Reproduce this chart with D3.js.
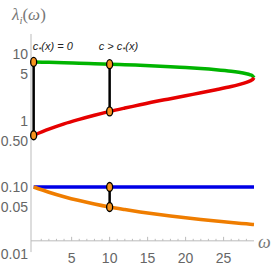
<!DOCTYPE html>
<meta charset="utf-8">
<html>
<head>
  <script src="https://d3js.org/d3.v7.min.js"></script>
  <style>
    body { margin: 0; background: white; }
    .tick-label { font-family: 'Liberation Sans', sans-serif; font-size: 14px; fill: #666; }
    .note { font-family: 'Liberation Sans', sans-serif; font-size: 11px; font-style: italic; fill: #222; }
  </style>
</head>
<body>
  <script>
    // data
    var omega = [0, 2, 4, 6, 8, 10, 12, 14, 16, 18, 20, 22, 24, 26, 27, 28, 28.5, 28.8, 29];
    var green = [7.60, 7.50, 7.39, 7.28, 7.16, 7.03, 6.90, 6.76, 6.61, 6.45, 6.26, 6.05, 5.80, 5.50, 5.30, 5.04, 4.86, 4.69, 4.40];
    var red = [0.60, 0.74, 0.89, 1.04, 1.20, 1.37, 1.54, 1.72, 1.93, 2.13, 2.36, 2.61, 2.90, 3.24, 3.46, 3.74, 3.94, 4.11, 4.40];
    var blue = [0.1, 0.1, 0.1, 0.1, 0.1, 0.1, 0.1, 0.1, 0.1, 0.1, 0.1, 0.1, 0.1, 0.1, 0.1, 0.1, 0.1, 0.1, 0.1];
    var orange = [0.100, 0.0835, 0.0715, 0.0625, 0.0555, 0.050, 0.0458, 0.0422, 0.0392, 0.0366, 0.0344, 0.0325, 0.0308, 0.0293, 0.0286, 0.0279, 0.0276, 0.0274, 0.0273];
    var yTicks = [10, 5, 1, 0.5, 0.1, 0.05, 0.01];
    var yTickText = ["10", "5", "1", "0.50", "0.10", "0.05", "0.01"];
    var xTicks = [5, 10, 15, 20, 25];

    var W = 273, H = 273;
    var svg = d3.select("body").append("svg")
      .attr("width", W).attr("height", H);

    //Scales
    var x = d3.scaleLinear().domain([-0.35, 29]).range([31, 254]);
    var y = d3.scaleLog().domain([0.01, 10]).range([253.5, 54]);
    var xAxisAt = 0.0155, yTop = 20;

    //Axes
    var axisCol = "#bbb";
    svg.append("line")
      .attr("x1", x(-0.35)).attr("x2", x(-0.35))
      .attr("y1", y(yTop)).attr("y2", y(0.0105))
      .attr("stroke", axisCol).attr("stroke-width", 1);
    svg.append("line")
      .attr("x1", x(-0.35)).attr("x2", x(29))
      .attr("y1", y(xAxisAt)).attr("y2", y(xAxisAt))
      .attr("stroke", axisCol).attr("stroke-width", 1);

    // x ticks, minor every unit
    d3.range(1, 29).forEach(function(t) {
      var major = t % 5 === 0;
      svg.append("line")
        .attr("x1", x(t)).attr("x2", x(t))
        .attr("y1", y(xAxisAt)).attr("y2", y(xAxisAt) - (major ? 4 : 2))
        .attr("stroke", axisCol).attr("stroke-width", 1);
    });
    svg.selectAll(".xl").data(xTicks).enter().append("text")
      .attr("class", "tick-label")
      .attr("x", d => x(d)).attr("y", y(xAxisAt) + 22)
      .attr("text-anchor", "middle").text(d => d);

    svg.selectAll(".yl").data(yTicks).enter().append("text")
      .attr("class", "tick-label")
      .attr("x", 28).attr("y", d => y(d) + 5)
      .attr("text-anchor", "end").text((d, i) => yTickText[i]);

    // axis labels
    var title = svg.append("text").attr("x", 12).attr("y", 20)
      .attr("font-family", "'Liberation Serif', serif").attr("font-size", 17).attr("fill", "#777");
    title.append("tspan").attr("font-style", "italic").text("λ");
    title.append("tspan").attr("font-style", "italic").attr("font-size", 11).attr("dy", 4).text("i");
    title.append("tspan").attr("dy", -4).text("(");
    title.append("tspan").attr("font-style", "italic").text("ω");
    title.append("tspan").text(")");

    svg.append("text").attr("x", 258).attr("y", y(xAxisAt) + 7)
      .attr("font-family", "'Liberation Serif', serif").attr("font-size", 18)
      .attr("font-style", "italic").attr("fill", "#777").text("ω");

    //Curves
    var line = d3.line()
      .x((d, i) => x(omega[i]))
      .y(d => y(d))
      .curve(d3.curveCatmullRom);

    var series = [
      { v: blue, c: "#0000e6" },
      { v: orange, c: "#ef7d00" },
      { v: green, c: "#00b400" },
      { v: red, c: "#e60000" }
    ];
    svg.selectAll(".curve").data(series).enter().append("path")
      .attr("d", d => line(d.v))
      .attr("fill", "none")
      .attr("stroke", d => d.c)
      .attr("stroke-width", 3.5);

    //Vertical connectors and dots
    var i0 = 0, i10 = omega.indexOf(10);
    var segs = [
      [0, green[i0], red[i0]],
      [10, green[i10], red[i10]],
      [10, blue[i10], orange[i10]]
    ];
    svg.selectAll(".seg").data(segs).enter().append("line")
      .attr("x1", d => x(d[0])).attr("x2", d => x(d[0]))
      .attr("y1", d => y(d[1])).attr("y2", d => y(d[2]))
      .attr("stroke", "black").attr("stroke-width", 2.5);

    var dots = [
      [0, green[i0]], [0, red[i0]],
      [10, green[i10]], [10, red[i10]], [10, blue[i10]], [10, orange[i10]]
    ];
    svg.selectAll(".dot").data(dots).enter().append("ellipse")
      .attr("cx", d => x(d[0])).attr("cy", d => y(d[1]))
      .attr("rx", 3).attr("ry", 4.5)
      .attr("fill", "#f7941d").attr("stroke", "black").attr("stroke-width", 1.3);

    //Notes
    var n1 = svg.append("text").attr("class", "note").attr("x", x(0) - 1).attr("y", 50);
    n1.append("tspan").text("c");
    n1.append("tspan").attr("font-size", 8).attr("dy", 2).text("*");
    n1.append("tspan").attr("dy", -2).text("(x) = 0");
    var n2 = svg.append("text").attr("class", "note").attr("x", x(10) - 11).attr("y", 50);
    n2.append("tspan").text("c > c");
    n2.append("tspan").attr("font-size", 8).attr("dy", 2).text("*");
    n2.append("tspan").attr("dy", -2).text("(x)");
  </script>
</body>
</html>
